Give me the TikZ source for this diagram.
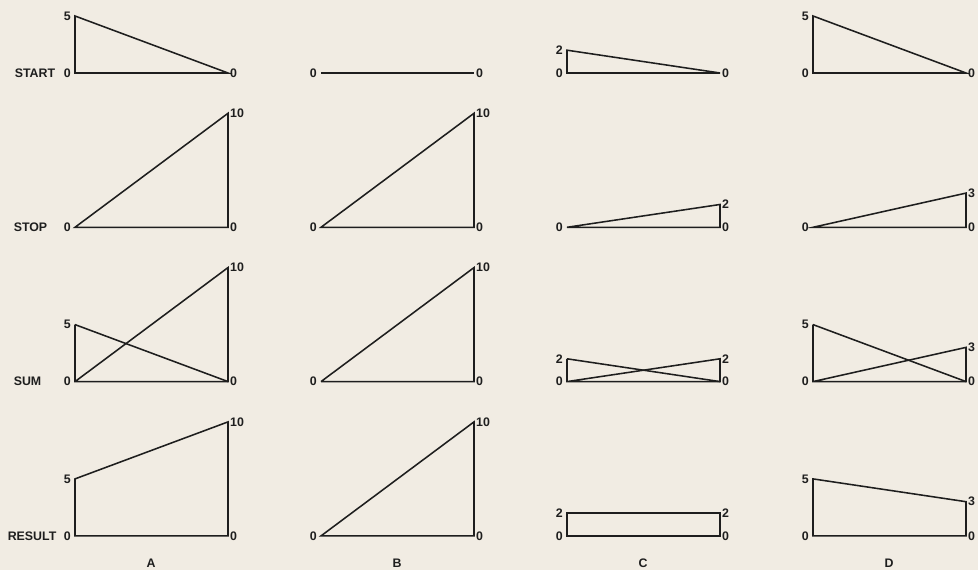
\documentclass[tikz,border=0pt]{standalone}
\usepackage{fontspec}
\setsansfont{Liberation Sans}
\usetikzlibrary{positioning, calc}
\definecolor{cpaper}{HTML}{F1ECE3}
\definecolor{cink}{HTML}{1E1E1E}
\tikzset{
  every picture/.style={font=\sffamily, line width=1.1pt, x=0.025cm, y=0.025cm},
  curve/.style={draw=cink, line join=miter},
  num/.style={font=\sffamily\bfseries\fontsize{8.8}{10}\selectfont, text=cink},
  numl/.style={num, anchor=east, inner sep=2.5pt},
  numr/.style={num, anchor=west, inner sep=1pt},
  rowname/.style={font=\sffamily\bfseries\fontsize{8.8}{10}\selectfont, text=cink, anchor=west, inner sep=0pt},
  colname/.style={font=\sffamily\bfseries\fontsize{8.8}{10}\selectfont, text=cink},
}

\begin{document}
\begin{tikzpicture}
  \fill[cpaper] (0,0) rectangle (978,570);
  \useasboundingbox (0,0) rectangle (978,570);
  \foreach \n/\xx [count=\r] in {START/14, STOP/13, SUM/13, RESULT/7} {
    \node[rowname] (row\r) at (\xx, 497-154.3*\r+154.3) {\n};
  }
  \foreach \s/\t/\lab [count=\i] in {5/10/A, 0/10/B, 2/2/C, 5/3/D} {
    \pgfmathsetmacro{\xl}{75+246*(\i-1)}
    \foreach \r in {1,...,4} {
      \pgfmathsetmacro{\yb}{497-154.3*(\r-1)}
      \coordinate (\lab\r l) at (\xl,\yb);
      \coordinate (\lab\r r) at (\xl+153,\yb);
      \coordinate (\lab\r s) at (\xl,\yb+11.4*\s);
      \coordinate (\lab\r t) at (\xl+153,\yb+11.4*\t);
      \node[numl] (\lab\r zl) at (\lab\r l) {0};
      \node[numr] (\lab\r zr) at (\lab\r r) {0};
    }
    \node[colname] (col\lab) at (\xl+76, 7) {\lab};
    \ifnum\s>0
      \draw[curve] (\lab1s) -- (\lab1l) -- (\lab1r) -- cycle;
    \else
      \draw[curve] (\lab1l) -- (\lab1r);
    \fi
    \draw[curve] (\lab2l) -- (\lab2r) -- (\lab2t) -- cycle;
    \draw[curve] (\lab3s) -- (\lab3l) -- (\lab3r) -- (\lab3t) -- (\lab3l);
    \draw[curve] (\lab3s) -- (\lab3r);
    \draw[curve] (\lab4l) -- (\lab4r) -- (\lab4t) -- (\lab4s) -- cycle;
    \foreach \r in {2,3,4} {
      \node[numr] (\lab\r vt) at (\lab\r t) {\t};
    }
    \ifnum\s>0
      \foreach \r in {1,3,4} {
        \node[numl] (\lab\r vs) at (\lab\r s) {\s};
      }
    \fi
  }
\end{tikzpicture}
\end{document}
